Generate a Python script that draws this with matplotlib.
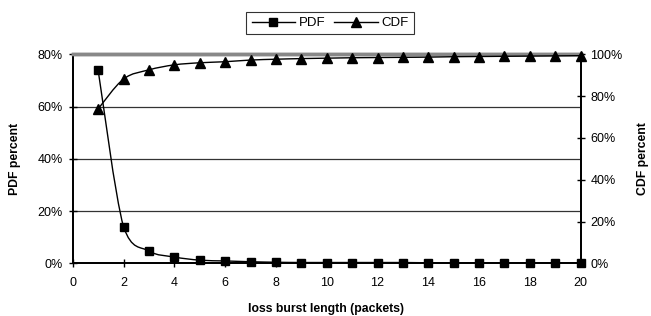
import numpy as np
import matplotlib.pyplot as plt
from matplotlib.path import Path
from matplotlib.patches import PathPatch
from matplotlib.lines import Line2D

plt.rcParams['font.family'] = ['Liberation Sans', 'DejaVu Sans']

# burst length in packets, PDF and CDF in percent
burst_len = list(range(1, 21))
pdf_pct = [74.0, 14.0, 4.7, 2.4, 1.2, 0.9, 0.6, 0.4, 0.3, 0.3,
           0.3, 0.3, 0.3, 0.2, 0.2, 0.2, 0.1, 0.1, 0.1, 0.1]
cdf_pct = [73.9, 88.2, 92.6, 95.0, 96.0, 96.5, 97.3, 97.7, 98.0, 98.2,
           98.4, 98.5, 98.6, 98.7, 98.9, 99.0, 99.1, 99.2, 99.3, 99.4]
left_ticks = [0, 20, 40, 60, 80]
right_ticks = [0, 20, 40, 60, 80, 100]


def smooth_path(xs, ys):
    # smoothed line like Excel: bezier segments through the points,
    # control points kept inside each segment's y range (no overshoot)
    pts = np.column_stack([np.asarray(xs, float), np.asarray(ys, float)])
    verts = [pts[0]]
    codes = [Path.MOVETO]
    n = len(pts)
    for i in range(n - 1):
        p0 = pts[i - 1] if i > 0 else pts[i]
        p1 = pts[i]
        p2 = pts[i + 1]
        p3 = pts[i + 2] if i + 2 < n else pts[i + 1]
        c1 = p1 + (p2 - p0) / 6.0
        c2 = p2 - (p3 - p1) / 6.0
        lo, hi = min(p1[1], p2[1]), max(p1[1], p2[1])
        c1[1] = np.clip(c1[1], lo, hi)
        c2[1] = np.clip(c2[1], lo, hi)
        verts += [c1, c2, p2]
        codes += [Path.CURVE4] * 3
    return Path(verts, codes)


fig = plt.figure(figsize=(6.51, 3.16), dpi=100)
ax = fig.add_axes([0.1117, 0.1668, 0.7803, 0.661])
ax2 = ax.twinx()

ax.set_xlim(0, 20)
ax.set_ylim(0, 80)
ax2.set_ylim(0, 100)

for yv in [20, 40, 60, 80]:
    ax.axhline(yv, color='#333333', lw=0.9, zorder=1)

ax.add_patch(PathPatch(smooth_path(burst_len, pdf_pct), fill=False,
                       color='black', lw=1.0, zorder=3))
ax.plot(burst_len, pdf_pct, ls='none', marker='s', ms=6, color='black',
        zorder=4, clip_on=False)

ax2.add_patch(PathPatch(smooth_path(burst_len, cdf_pct), fill=False,
                        color='black', lw=1.0, zorder=3))
ax2.plot(burst_len, cdf_pct, ls='none', marker='^', ms=7, color='black',
         zorder=4, clip_on=False)

ax.set_xticks(range(0, 21, 2))
ax.set_yticks(left_ticks)
ax.set_yticklabels([f'{v}%' for v in left_ticks])
ax2.set_yticks(right_ticks)
ax2.set_yticklabels([f'{v}%' for v in right_ticks])

for a in (ax, ax2):
    a.tick_params(direction='inout', length=6, width=1, labelsize=9,
                  color='black', pad=4)
    for s in ['left', 'right', 'bottom']:
        a.spines[s].set_color('black')
        a.spines[s].set_linewidth(1.3)
    a.spines['top'].set_color('#888888')
    a.spines['top'].set_linewidth(2.5)
ax.tick_params(axis='x', pad=7)

# axis titles placed in figure coordinates
fig.text(0.5008, 0.022, 'loss burst length (packets)', fontsize=8.8,
         fontweight='bold', ha='center', va='center')
fig.text(0.0237, 0.497, 'PDF percent', fontsize=8.8, fontweight='bold',
         rotation=90, ha='center', va='center')
fig.text(0.9877, 0.497, 'CDF percent', fontsize=8.8, fontweight='bold',
         rotation=90, ha='center', va='center')

handles = [Line2D([], [], color='black', lw=1, marker='s', ms=5.5),
           Line2D([], [], color='black', lw=1, marker='^', ms=6.5)]
leg = fig.legend(handles, ['PDF', 'CDF'], loc='upper center', ncol=2,
                 bbox_to_anchor=(0.507, 0.963), borderaxespad=0,
                 fontsize=9.5, frameon=True, fancybox=False,
                 edgecolor='black', handlelength=3.3, columnspacing=0.7,
                 handletextpad=0.25, borderpad=0.4)
leg.get_frame().set_linewidth(0.8)

fig.savefig('out.png', dpi=100)
